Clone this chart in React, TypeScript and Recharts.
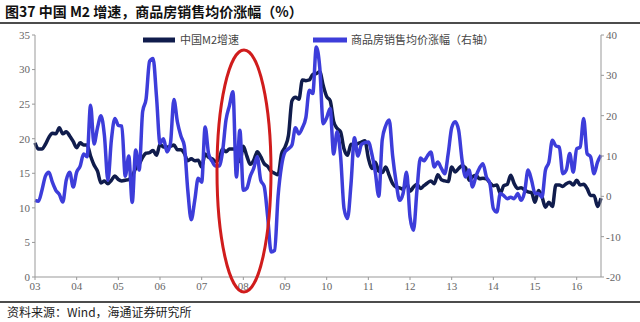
import { Line, LineChart, XAxis, YAxis } from "recharts";

// year labels shown on the x axis (03 = 2003 ... 16 = 2016)
const yearLabels = ["03", "04", "05", "06", "07", "08", "09", "10", "11", "12", "13", "14", "15", "16"];
const monthsInLastYear = 8;

// 中国M2增速 (%), monthly, left axis
const m2Growth = [
  19.4, 18.5, 18.5, 19.2, 20.2, 20.8, 20.7, 21.6, 20.7, 21.0, 20.4, 19.6,
  18.7, 19.4, 19.1, 19.1, 17.5, 16.2, 15.3, 13.6, 13.9, 13.5, 14.0, 14.6,
  14.1, 13.9, 14.0, 14.1, 14.6, 15.7, 16.3, 17.3, 17.9, 18.0, 18.3, 17.6,
  19.2, 18.8, 18.8, 18.9, 19.1, 18.4, 18.4, 17.9, 16.8, 17.1, 16.8, 16.9,
  15.9, 17.8, 17.3, 17.1, 16.7, 17.1, 18.5, 18.1, 18.5, 18.5, 18.5, 16.7,
  18.9, 17.5, 16.3, 16.9, 18.1, 17.4, 16.4, 16.0, 15.3, 15.0, 14.8, 17.8,
  18.8, 20.5, 25.5, 26.0, 25.7, 28.5, 28.4, 28.5, 29.3, 29.4, 29.7, 27.7,
  26.1, 25.5, 22.5, 21.5, 21.0, 18.5, 17.6, 19.2, 19.0, 19.3, 19.5, 19.7,
  17.2, 15.7, 16.6, 15.3, 15.1, 15.9, 14.7, 13.5, 13.0, 12.9, 12.7, 13.6,
  12.4, 13.0, 13.4, 12.8, 13.2, 13.6, 13.9, 13.5, 14.8, 14.1, 13.9, 13.8,
  15.9, 15.2, 15.7, 16.1, 15.8, 14.0, 14.5, 14.7, 14.2, 14.3, 14.2, 13.6,
  13.2, 13.3, 12.1, 13.2, 13.4, 14.7, 13.5, 12.8, 12.9, 12.6, 12.3, 12.2,
  10.8, 12.5, 11.6, 10.1, 10.8, 10.2, 13.3, 13.3, 13.1, 13.5, 13.7, 13.3,
  14.0, 13.3, 13.4, 12.8, 11.8, 11.8, 10.2, 11.4,
];

// 商品房销售均价涨幅 (%), monthly, right axis
const priceGrowth = [
  -1.0, -1.2, 1.5, 5.0, 6.0, 3.5, 1.5, 0.5, -1.4, 4.0, 6.0, 2.3,
  6.0, 7.5, 10.5, 9.8, 22.6, 13.0, 17.0, 20.0, 15.0, 4.0, 14.0, 19.3,
  17.6, 17.4, 5.0, 10.0, -1.5, 11.5, 6.5, 21.0, 24.2, 33.5, 34.2, 24.6,
  13.1, 14.3, 11.0, 13.1, 24.0, 18.5, 15.0, 12.5, 1.5, -5.8, -1.0, 4.5,
  3.5, 17.2, 10.5, 8.7, 7.5, 7.5, 11.0, 18.9, 22.5, 25.9, 4.8, 16.4,
  1.5, 2.0, 5.0, 7.0, 9.8, 4.0, 2.5, -5.0, -13.8, -13.4, 0.0, 7.5,
  11.0, 11.8, 12.7, 17.0, 15.5, 17.0, 19.5, 26.3, 25.5, 37.0, 32.0, 18.0,
  19.5, 21.8, 10.5, 16.0, 10.0, -3.0, -5.5, 3.0, 14.5, 10.0, 12.8, 13.3,
  13.5, 10.5, 6.0, 0.0, 14.0, 17.5, 18.9, 10.0, 3.5, -1.0, 0.7, 6.0,
  -5.1, -8.4, 1.5, 9.5, 8.8, 10.0, 11.0, 7.3, 8.5, 7.0, 5.6, 10.6,
  17.0, 18.5, 16.4, 8.9, 4.8, 6.5, 2.3, 5.0, 7.0, 8.1, 4.8, 3.2,
  -3.0, -3.9, 0.7, 0.2, -0.6, -0.2, -0.6, 0.7, -1.0, 1.1, 6.5, 4.0,
  0.7, 0.7, -0.2, 6.5, 8.5, 13.9, 12.5, 12.2, 5.6, 6.5, 10.6, 6.0,
  11.8, 12.2, 19.3, 10.6, 9.8, 5.6, 8.5, 10.2,
];

const leftTicks = [0, 5, 10, 15, 20, 25, 30, 35];
const rightTicks = [-20, -10, 0, 10, 20, 30, 40];

const months: string[] = [];
yearLabels.forEach((y, i) => {
  const n = i === yearLabels.length - 1 ? monthsInLastYear : 12;
  for (let m = 1; m <= n; m++) months.push(`${y}-${String(m).padStart(2, "0")}`);
});
const yearTicks = yearLabels.map((y) => `${y}-01`);

const data = months.map((month, i) => ({ month, m2: m2Growth[i], price: priceGrowth[i] }));

const M2_COLOR = "#101c4c";
const PRICE_COLOR = "#3d3dda";
const SERIF = "'Liberation Serif', 'DejaVu Serif', serif";
const axisTick = { fontSize: 11, fill: "#666", fontFamily: SERIF, style: { fontFamily: SERIF } };

export default function App() {
  return (
    <div style={{ position: "absolute", left: 0, top: 0, width: 640, height: 322, background: "#fff", fontFamily: SERIF }}>
      <LineChart width={640} height={322} data={data} margin={{ top: 35, right: 0, bottom: 20, left: 0 }}>
        <XAxis
          dataKey="month"
          ticks={yearTicks}
          interval={0}
          tickFormatter={(v: string) => v.slice(0, 2)}
          stroke="#999"
          tickSize={3}
          height={25}
          tick={axisTick}
        />
        <YAxis
          yAxisId="left"
          domain={[0, 35]}
          ticks={leftTicks}
          stroke="#999"
          tickSize={3}
          width={35}
          tick={axisTick}
        />
        <YAxis
          yAxisId="right"
          orientation="right"
          domain={[-20, 40]}
          ticks={rightTicks}
          stroke="#999"
          tickSize={3}
          width={39}
          tick={axisTick}
        />
        <Line
          yAxisId="left"
          type="monotone"
          dataKey="m2"
          stroke={M2_COLOR}
          strokeWidth={3.5}
          dot={false}
          isAnimationActive={false}
        />
        <Line
          yAxisId="right"
          type="monotone"
          dataKey="price"
          stroke={PRICE_COLOR}
          strokeWidth={3.5}
          dot={false}
          isAnimationActive={false}
        />
      </LineChart>

      <svg width={640} height={322} style={{ position: "absolute", left: 0, top: 0, pointerEvents: "none" }}>
        <text x={5} y={17} fontSize={14} fontWeight="bold" fill="#111" fontFamily="'Noto Sans CJK SC', sans-serif">
          图37 中国 M2 增速，商品房销售均价涨幅（%）
        </text>
        <line x1={0} x2={640} y1={23} y2={23} stroke="#111" strokeWidth={1.5} />

        <line x1={143} x2={175} y1={40} y2={40} stroke={M2_COLOR} strokeWidth={5} />
        <text x={180} y={44} fontSize={11} fill="#444" fontFamily="'Noto Sans CJK SC', sans-serif">
          中国M2增速
        </text>
        <line x1={313} x2={347} y1={40} y2={40} stroke={PRICE_COLOR} strokeWidth={5} />
        <text x={351} y={44} fontSize={11} fill="#444" fontFamily="'Noto Sans CJK SC', sans-serif">
          商品房销售均价涨幅（右轴）
        </text>

        <ellipse cx={244} cy={171} rx={27} ry={121} fill="none" stroke="#d01c1c" strokeWidth={3} />

        <line x1={0} x2={640} y1={302} y2={302} stroke="#111" strokeWidth={1.5} />
        <text x={7} y={317} fontSize={12} fill="#222" fontFamily="'Noto Sans CJK SC', sans-serif">
          资料来源：Wind，海通证券研究所
        </text>
      </svg>
    </div>
  );
}
